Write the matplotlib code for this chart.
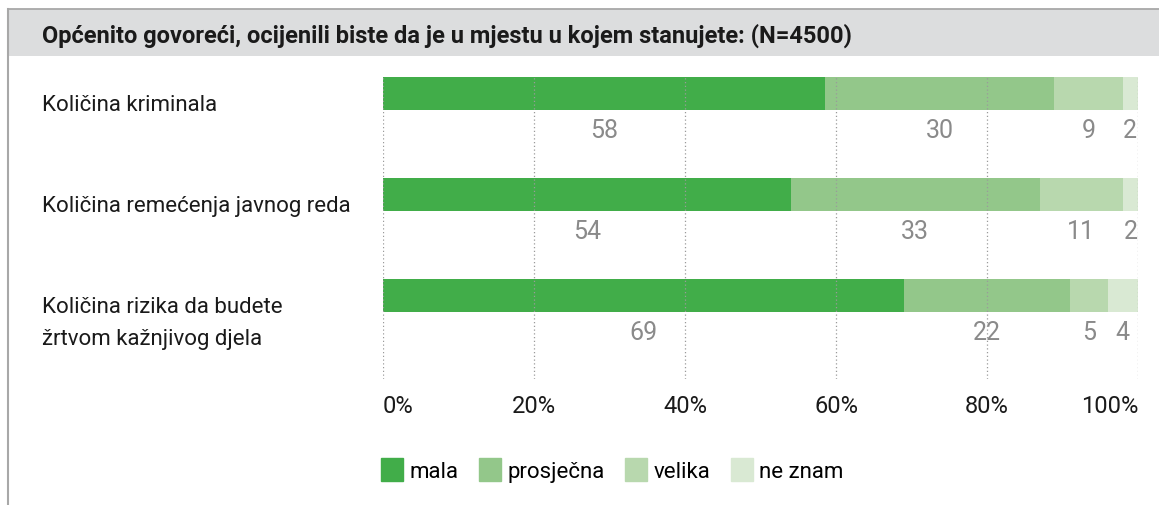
import matplotlib.pyplot as plt
import matplotlib.patches as mpatches
from matplotlib.transforms import blended_transform_factory

# data
categories = ['Količina kriminala',
              'Količina remećenja javnog reda',
              'Količina rizika da budete\nžrtvom kažnjivog djela']
series_names = ['mala', 'prosječna', 'velika', 'ne znam']
mala = [58, 54, 69]
prosjecna = [30, 33, 22]
velika = [9, 11, 5]
ne_znam = [2, 2, 4]
tick_labels = ['0%', '20%', '40%', '60%', '80%', '100%']
title = 'Općenito govoreći, ocijenili biste da je u mjestu u kojem stanujete: (N=4500)'

colors = ['#41ad49', '#93c78a', '#b8d8ae', '#d9e9d3']
values = [mala, prosjecna, velika, ne_znam]

plt.rcParams['font.family'] = ['Roboto', 'DejaVu Sans']

W, H = 1159, 506
fig = plt.figure(figsize=(W / 100, H / 100), dpi=100)

# header band and frame lines
fig.patches.append(mpatches.Rectangle((8 / W, 1 - 57 / H), 1, 47 / H, transform=fig.transFigure,
                                      facecolor='#dcddde', edgecolor='none'))
fig.lines.append(plt.Line2D([8 / W, 1], [1 - 10 / H, 1 - 10 / H], transform=fig.transFigure,
                            color='#a8a8a8', lw=1.3))
fig.lines.append(plt.Line2D([8 / W, 8 / W], [0, 1 - 10 / H], transform=fig.transFigure,
                            color='#a8a8a8', lw=1.5))
fig.text(42 / W, 1 - 43 / H, title, fontsize=17, fontweight='bold', va='baseline', ha='left',
         color='#1a1a1a')

ax = fig.add_axes([383 / W, 1 - 380 / H, 755 / W, 302 / H])
bar_h = 0.33
y = list(range(len(categories)))
totals = [sum(v[i] for v in values) for i in y]

lefts = [0.0] * len(y)
for name, vals, c in zip(series_names, values, colors):
    widths = [vals[i] / totals[i] * 100 for i in y]
    ax.barh(y, widths, left=lefts, height=bar_h, color=c, label=name, zorder=1)
    for i in y:
        ax.text(lefts[i] + widths[i] / 2, y[i] + 0.36, str(vals[i]), ha='center', va='center',
                fontsize=18, color='#8a8a8a')
    lefts = [lefts[i] + widths[i] for i in y]

lab_tr = blended_transform_factory(fig.transFigure, ax.transData)
for i, cat in enumerate(categories):
    ax.text(42 / W, y[i] + 0.005, cat, transform=lab_tr, fontsize=16,
            va='top', ha='left', color='#1a1a1a', linespacing=1.7)

ax.set_xlim(0, 100)
ax.set_ylim(y[-1] + 0.83, -bar_h / 2)
ax.set_xticks([0, 20, 40, 60, 80, 100])
ax.set_xticklabels(tick_labels, fontsize=17, color='#1a1a1a')
ax.get_xticklabels()[0].set_ha('left')
ax.get_xticklabels()[-1].set_ha('right')
ax.set_yticks([])
ax.tick_params(axis='x', length=0, pad=11)
for s in ax.spines.values():
    s.set_visible(False)
for xv in [0, 20, 40, 60, 80, 100]:
    ax.axvline(xv, color='#9a9a9a', lw=0.9, ls=(0, (1, 2)), zorder=3)

handles = [mpatches.Patch(color=c) for c in colors]
fig.legend(handles, series_names, loc='center left', bbox_to_anchor=(372 / W, 1 - 471 / H),
           ncol=4, frameon=False, fontsize=16, handlelength=1.0, handleheight=1.2,
           handletextpad=0.3, columnspacing=0.9, borderaxespad=0)

fig.savefig('out.png', dpi=100)
